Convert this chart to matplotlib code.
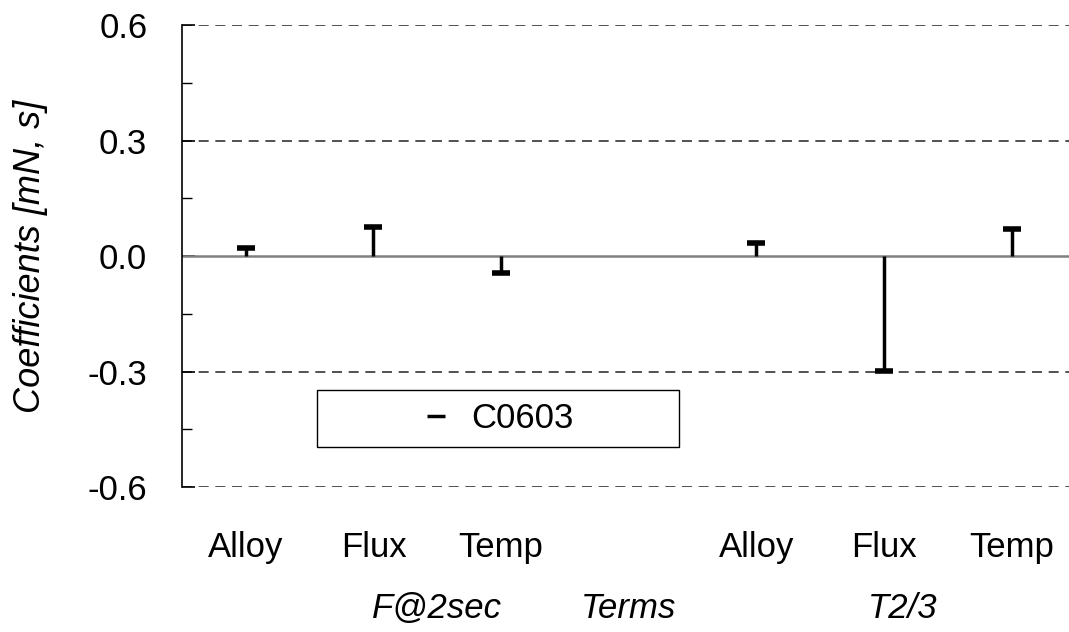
import numpy as np
import matplotlib
matplotlib.use('Agg')
import matplotlib.pyplot as plt
from matplotlib.patches import Rectangle
from matplotlib.lines import Line2D
from matplotlib.ticker import MultipleLocator, FormatStrFormatter
import matplotlib.transforms as mtransforms

plt.rcParams['font.family'] = ['Liberation Sans', 'DejaVu Sans']
plt.rcParams['axes.unicode_minus'] = False

# effect coefficients per term (empty slot separates the two responses)
terms = ['Alloy', 'Flux', 'Temp', '', 'Alloy', 'Flux', 'Temp']
coefs = [0.022, 0.075, -0.044, np.nan, 0.033, -0.299, 0.070]
groups = ['F@2sec', 'Terms', 'T2/3']
group_pos = [1.5, 3.0, 5.15]
series_name = 'C0603'

fs = 25

fig = plt.figure(figsize=(10.69, 6.32), dpi=100)
ax = fig.add_axes([0.1703, 0.2294, 0.8297, 0.7310])

x = np.arange(len(terms))
vals = np.array(coefs)
ok = ~np.isnan(vals)

# stems from zero with a cap at the coefficient end
ax.vlines(x[ok], 0, vals[ok], color='black', lw=2.5, zorder=3)
ax.plot(x[ok], vals[ok], ls='none', marker='_', ms=13, mew=4,
        color='black', zorder=4)

# grid lines
for g in [-0.6, -0.3, 0.3, 0.6]:
    ax.axhline(g, color='#333333', lw=1.2, ls=(0, (6, 4)), zorder=1)
ax.axhline(0, color='#808080', lw=1.8, zorder=2)

ax.set_xlim(-0.5, 6.45)
ax.set_ylim(-0.6, 0.6)
ax.yaxis.set_major_locator(MultipleLocator(0.3))
ax.yaxis.set_minor_locator(MultipleLocator(0.15))
ax.yaxis.set_major_formatter(FormatStrFormatter('%.1f'))
ax.tick_params(axis='y', which='major', direction='in', length=9, width=1.2,
               labelsize=fs, pad=25)
ax.tick_params(axis='y', which='minor', direction='in', length=7, width=1.0)

ax.set_xticks(x)
ax.set_xticklabels(terms)
ax.tick_params(axis='x', length=0, labelsize=fs, pad=32)

for s in ['top', 'right', 'bottom']:
    ax.spines[s].set_visible(False)
ax.spines['left'].set_linewidth(1.2)

ax.set_ylabel('Coefficients [mN, s]', fontsize=26, style='italic')
ax.yaxis.set_label_coords(-0.151, 0.5)

trans = mtransforms.blended_transform_factory(ax.transData, ax.transAxes)
for name, pos in zip(groups, group_pos):
    ax.text(pos, -0.264, name, transform=trans, ha='center', va='center',
            fontsize=fs, style='italic')

# legend box
ax.add_patch(Rectangle((0.152, 0.087), 0.408, 0.123, transform=ax.transAxes,
                       fill=False, ec='black', lw=1.0, zorder=5))
handle = Line2D([], [], ls='none', marker='_', ms=13, mew=2.5, color='black')
ax.legend([handle], [series_name], loc='center', bbox_to_anchor=(0.356, 0.1485),
          frameon=False, fontsize=fs, handlelength=0.8, handletextpad=0.6)

fig.savefig('out.png', dpi=100)
